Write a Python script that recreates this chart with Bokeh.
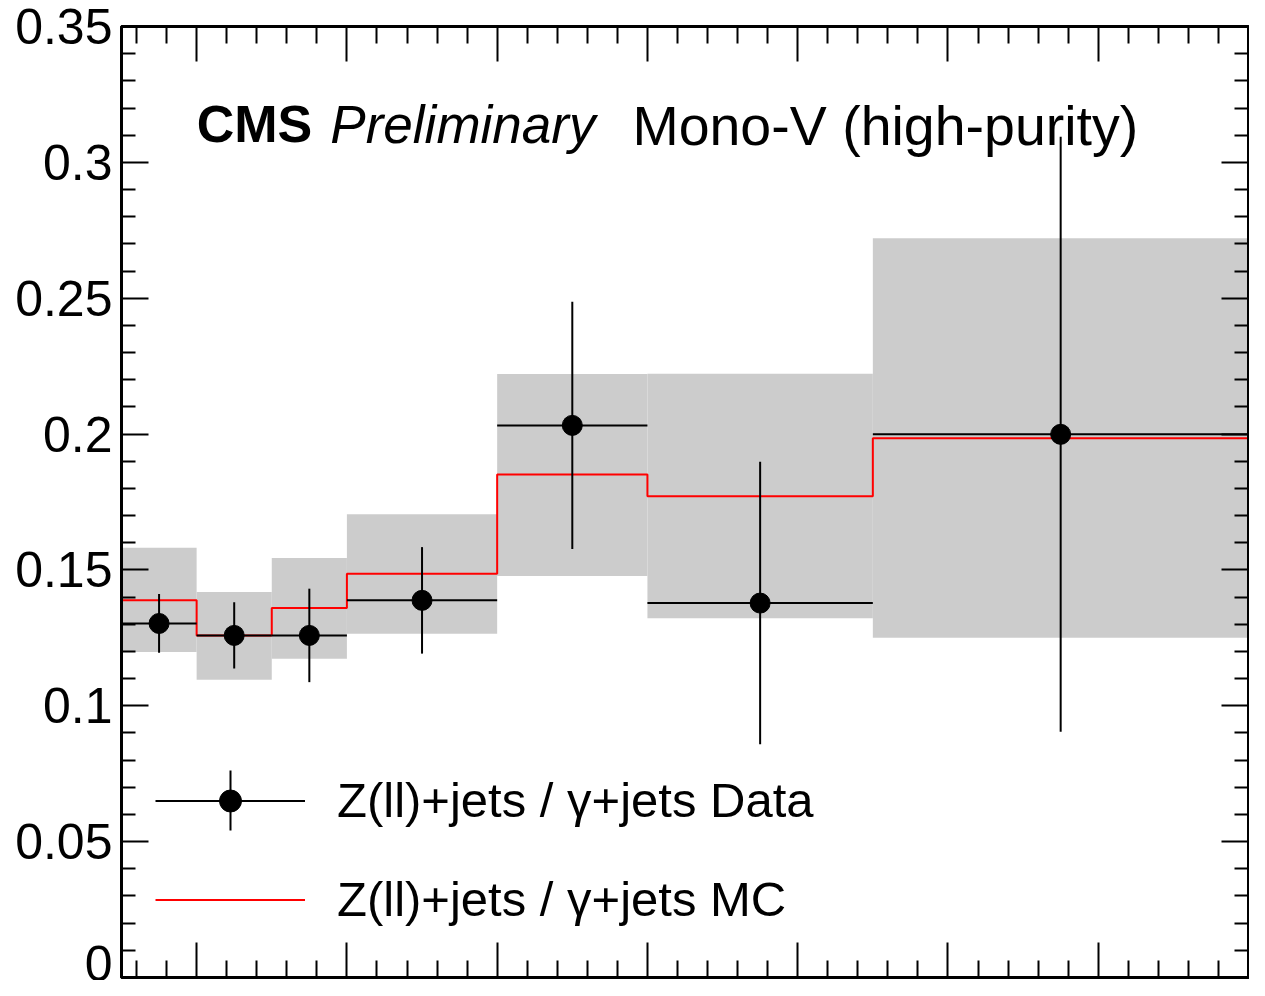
import numpy as np
from bokeh.plotting import figure
from bokeh.models import (FixedTicker, LinearAxis, Range1d, Label, Legend, LegendItem,
                          BoxAnnotation, CustomLabelingPolicy)
from bokeh.embed import file_html
from bokeh.resources import INLINE

# ---- data ----
bin_edges = [250, 300, 350, 400, 500, 600, 750, 1000]
data_ratio = [0.1303, 0.1259, 0.1259, 0.1388, 0.2032, 0.1378, 0.1999]
data_err = [0.0108, 0.0122, 0.0172, 0.0196, 0.0455, 0.0520, 0.1095]
mc_ratio = [0.1388, 0.1259, 0.1360, 0.1486, 0.1851, 0.1771, 0.1985]
band_low = [0.1198, 0.1096, 0.1173, 0.1265, 0.1478, 0.1322, 0.1250]
band_high = [0.1582, 0.1419, 0.1544, 0.1705, 0.2221, 0.2222, 0.2721]

y_tick_values = [0, 0.05, 0.1, 0.15, 0.2, 0.25, 0.3, 0.35]
y_tick_labels = ["0", "0.05", "0.1", "0.15", "0.2", "0.25", "0.3", "0.35"]
x_tick_values = [300, 400, 500, 600, 700, 800, 900, 1000]
legend_labels = ["Z(ll)+jets / \u03b3+jets Data", "Z(ll)+jets / \u03b3+jets MC"]

FONT = "Liberation Sans"

edges = np.array(bin_edges, dtype=float)
left = edges[:-1]
right = edges[1:]
centers = (left + right) / 2
y = np.array(data_ratio)
err = np.array(data_err)

p = figure(width=1249, height=980, output_backend="svg", toolbar_location=None,
           x_range=Range1d(250, 1000), y_range=Range1d(0, 0.35),
           min_border_left=121, min_border_right=1, min_border_top=26, min_border_bottom=3,
           background_fill_color="white", border_fill_color="white")
p.grid.visible = False
p.outline_line_color = "black"
p.outline_line_width = 3

x_minor = [v for v in range(260, 1000, 20) if v % 100 != 0]
y_minor = [round(v, 2) for v in np.arange(0.01, 0.35, 0.01) if round(v * 100) % 5 != 0]

xt = FixedTicker(ticks=x_tick_values, minor_ticks=x_minor)
yt = FixedTicker(ticks=y_tick_values, minor_ticks=y_minor)

def no_labels(ax):
    ax.major_label_policy = CustomLabelingPolicy(code="return new Set()")
    ax.major_label_text_font_size = "0px"
    ax.major_label_standoff = 0

def style_x(ax):
    ax.ticker = xt
    ax.major_tick_in = 35
    ax.major_tick_out = 0
    ax.minor_tick_in = 17
    ax.minor_tick_out = 0
    ax.major_tick_line_width = 2
    ax.minor_tick_line_width = 2
    ax.axis_line_width = 3
    no_labels(ax)

def style_y(ax, labels=True):
    ax.ticker = yt
    ax.major_tick_in = 27
    ax.major_tick_out = 0
    ax.minor_tick_in = 14
    ax.minor_tick_out = 0
    ax.major_tick_line_width = 2
    ax.minor_tick_line_width = 2
    ax.axis_line_width = 3
    if labels:
        ax.major_label_overrides = {v: s for v, s in zip(y_tick_values, y_tick_labels)}
        ax.major_label_text_font = FONT
        ax.major_label_text_font_size = "50px"
        ax.major_label_text_color = "black"
        ax.major_label_standoff = 9
    else:
        no_labels(ax)

style_x(p.xaxis[0])
style_y(p.yaxis[0])
top_ax = LinearAxis()
style_x(top_ax)
p.add_layout(top_ax, "above")
right_ax = LinearAxis()
style_y(right_ax, labels=False)
p.add_layout(right_ax, "right")

# uncertainty band
p.quad(left=left, right=right, bottom=band_low, top=band_high,
       fill_color="#cccccc", line_color=None)

# MC step histogram
mc_r = p.step(x=edges, y=mc_ratio + [mc_ratio[-1]], mode="after",
              line_color="#ff0000", line_width=2)

# data with error bars
xerr_r = p.segment(x0=left, y0=y, x1=right, y1=y, line_color="black", line_width=2)
yerr_r = p.segment(x0=centers, y0=y - err, x1=centers, y1=y + err,
                   line_color="black", line_width=2)
pts_r = p.scatter(centers, y, size=20, marker="circle", fill_color="black", line_color="black")

legend = Legend(items=[LegendItem(label=legend_labels[0], renderers=[xerr_r, pts_r]),
                       LegendItem(label=legend_labels[1], renderers=[mc_r])],
                location=(34, 50), orientation="vertical",
                glyph_width=150, glyph_height=55, label_height=55, label_standoff=32,
                spacing=43, padding=0, margin=0,
                border_line_alpha=0, background_fill_alpha=0,
                label_text_font=FONT, label_text_font_size="49px", label_text_color="black")
p.add_layout(legend)

# vertical error-bar stroke of the legend's data sample (screen units, frame-relative)
p.add_layout(BoxAnnotation(left=108, right=110, bottom=147, top=207,
                           left_units="screen", right_units="screen",
                           bottom_units="screen", top_units="screen",
                           fill_color="black", fill_alpha=1.0, line_color=None))

p.add_layout(Label(x=300, y=0.3063, y_offset=21, text="CMS", text_font=FONT,
                   text_font_size="52px", text_font_style="bold",
                   text_baseline="alphabetic", text_color="black"))
p.add_layout(Label(x=389, y=0.3063, y_offset=21, text="Preliminary", text_font=FONT,
                   text_font_size="53px", text_font_style="italic",
                   text_baseline="alphabetic", text_color="black"))
p.add_layout(Label(x=590, y=0.3063, y_offset=19, text="Mono-V (high-purity)", text_font=FONT,
                   text_font_size="55.5px", text_baseline="alphabetic", text_color="black"))
p.add_layout(Label(x=1000, y=0.35, x_offset=-8, y_offset=43, text="2.3 fb\u207b\u00b9 (13 TeV)",
                   text_font=FONT, text_font_size="50px", text_align="right",
                   text_baseline="alphabetic", text_color="black"))

open("out.html", "w").write(file_html(p, INLINE))
